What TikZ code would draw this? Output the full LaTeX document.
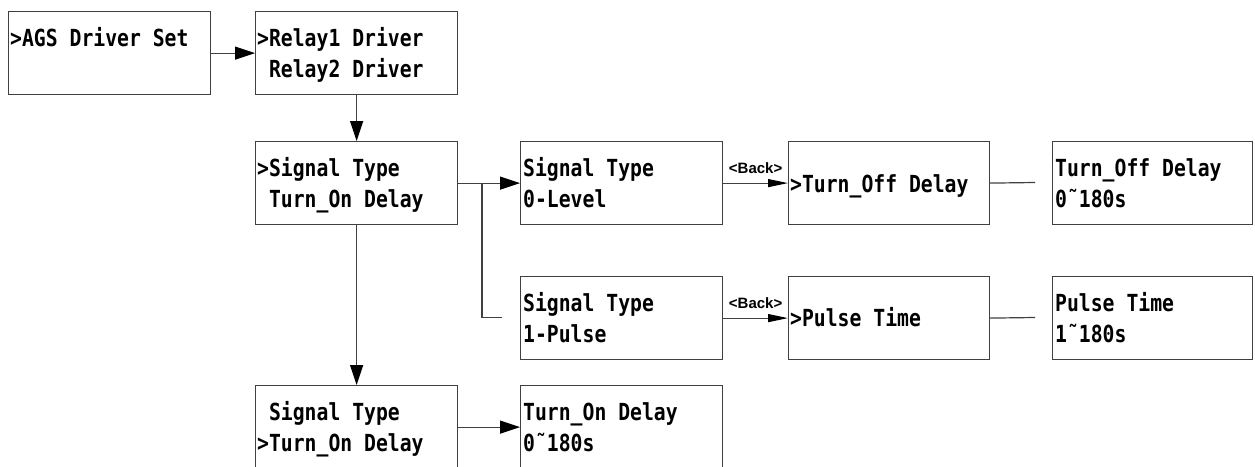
\documentclass[tikz,border=0pt]{standalone}
\usepackage{fontspec}
\usetikzlibrary{arrows.meta,calc}
\newfontfamily\lcdfont[FakeStretch=0.84]{DejaVu Sans Mono}
\newfontfamily\backfont{Liberation Sans}
\tikzset{
  box/.style={draw=black!75, line width=1.2pt, rectangle, inner sep=0pt, minimum width=202pt, minimum height=83pt, anchor=north west},
  lcd/.style={inner sep=0pt, anchor=base west, font=\lcdfont\bfseries\fontsize{23.5}{31}\selectfont},
  conn/.style={draw=black!75, line width=1.2pt},
  arr/.style={conn, -{Triangle[length=20pt,width=13pt,black]}},
  barr/.style={conn, -{Triangle[length=20pt,width=8pt,black]}},
  backlbl/.style={inner sep=0pt, font=\backfont\bfseries\fontsize{15}{15}\selectfont}
}
\newcommand{\tld}{\char"02DC\relax}
\begin{document}
\begin{tikzpicture}[x=1pt,y=-1pt]
\useasboundingbox (0,0) rectangle (1255,466);
\clip (0,0) rectangle (1255,466);
% boxes
\node[box] (b1) at (8,11) {};
\node[box] (b2) at (255,11) {};
\node[box] (b3) at (255,141) {};
\node[box] (b4) at (520,141) {};
\node[box] (b5) at (520,276) {};
\node[box, minimum width=201pt] (b6) at (788,141) {};
\node[box, minimum width=201pt] (b8) at (788,276) {};
\node[box, minimum width=200pt] (b7) at (1052,141) {};
\node[box, minimum width=200pt] (b9) at (1052,276) {};
\node[box] (b10) at (255,385) {};
\node[box] (b11) at (520,385) {};
% texts
\node[lcd] (t1) at (10,46.5) {>AGS Driver Set};
\node[lcd] (t2a) at (257,46.5) {>Relay1 Driver};
\node[lcd] (t2b) at (257,77) {\phantom{>}Relay2 Driver};
\node[lcd] (t3a) at (257,176.5) {>Signal Type};
\node[lcd] (t3b) at (257,207) {\phantom{>}Turn\_On Delay};
\node[lcd] (t4a) at (523,176.5) {Signal Type};
\node[lcd] (t4b) at (523,207) {0-Level};
\node[lcd] (t5a) at (523,311.5) {Signal Type};
\node[lcd] (t5b) at (523,342) {1-Pulse};
\node[lcd] (t6) at (790,192) {>Turn\_Off Delay};
\node[lcd] (t8) at (790,326) {>Pulse Time};
\node[lcd] (t7a) at (1055,176.5) {Turn\_Off Delay};
\node[lcd] (t7b) at (1055,207) {0\tld 180s};
\node[lcd] (t9a) at (1055,311.5) {Pulse Time};
\node[lcd] (t9b) at (1055,342) {1\tld 180s};
\node[lcd] (t10a) at (257,420.5) {\phantom{>}Signal Type};
\node[lcd] (t10b) at (257,451) {>Turn\_On Delay};
\node[lcd] (t11a) at (523,420.5) {Turn\_On Delay};
\node[lcd] (t11b) at (523,451) {0\tld 180s};
% connectors
\coordinate (br) at (482,182.5);
\coordinate (brend) at (502,317.5);
\coordinate (e7) at (1035,182.5);
\coordinate (e9) at (1035,317.5);
\draw[arr] (b1.east) -- (b2.west);
\draw[arr] (b2.south) -- (b3.north);
\draw[arr] (b3.east) -- (b4.west);
\draw[conn] (br) |- (brend);
\draw[arr] (b3.south) -- (b10.north);
\draw[arr] (b10.east) -- (b11.west);
\draw[barr] (b4.east) -- node[backlbl, above=9pt] (l1) {<Back>} (b6.west);
\draw[barr] (b5.east) -- node[backlbl, above=9pt] (l2) {<Back>} (b8.west);
\draw[conn] (b6.east) -- (e7);
\draw[conn] (b8.east) -- (e9);
\end{tikzpicture}
\end{document}
